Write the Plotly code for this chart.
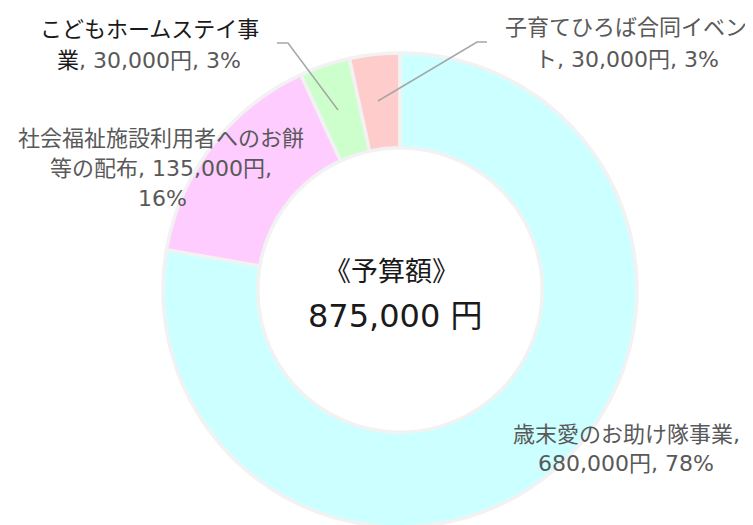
import plotly.graph_objects as go

categories = ["歳末愛のお助け隊事業", "社会福祉施設利用者へのお餅等の配布", "こどもホームステイ事業", "子育てひろば合同イベント"]
values = [680000, 135000, 30000, 30000]
percent_labels = ["78%", "16%", "3%", "3%"]
colors = ["#CCFFFF", "#FFCCFF", "#CCFFCC", "#FFCCCC"]

# data label lines (as shown on the chart)
label_lines = [
    ["歳末愛のお助け隊事業,", "680,000円, 78%"],
    ["社会福祉施設利用者へのお餅", "等の配布, 135,000円,", "16%"],
    ["こどもホームステイ事", "業, 30,000円, 3%"],
    ["子育てひろば合同イベン", "ト, 30,000円, 3%"],
]
center_title = "《予算額》"
center_total = "875,000 円"

W, H = 753, 525
OX, OY = 8, 7  # page offset of the plot div
FONT = "DejaVu Sans, Noto Sans CJK JP"

fig = go.Figure()
fig.add_trace(go.Pie(
    labels=categories,
    values=values,
    sort=False,
    direction="clockwise",
    rotation=0,
    hole=0.6,
    textinfo="none",
    hoverinfo="label+value+percent",
    marker=dict(colors=colors, line=dict(color="#F2F2F2", width=3.5)),
    domain=dict(x=[155 / W, 629 / W], y=[1 - 519 / H, 1 - 45 / H]),
    showlegend=False,
))

def px(x, y):
    return (x - OX) / W, 1 - (y - OY) / H

# label positions (center x, center y of each line) in pixels
label_pos = [
    [(626, 433), (626, 462)],
    [(161, 137), (161, 167), (162, 197)],
    [(149, 28), (149, 59)],
    [(626, 27), (627, 58)],
]
annotations = []
for i, lines in enumerate(label_lines):
    for j, t in enumerate(lines):
        x, y = px(*label_pos[i][j])
        color = "#595959"
        text = t
        if i == 2:
            if j == 0:
                text = f"<span style='color:#1A1A1A'>{t}</span>"
            else:
                text = f"<span style='color:#1A1A1A'>{t[0]}</span>{t[1:]}"
        annotations.append(dict(
            x=x, y=y, xref="paper", yref="paper", text=text, showarrow=False,
            xanchor="center", yanchor="middle",
            font=dict(family=FONT, size=22, color=color),
        ))

cx, cy = px(391, 270)
annotations.append(dict(x=cx, y=cy, xref="paper", yref="paper", text=center_title,
                        showarrow=False, xanchor="center", yanchor="middle",
                        font=dict(family=FONT, size=27, color="#1A1A1A")))
cx, cy = px(395, 315)
annotations.append(dict(x=cx, y=cy, xref="paper", yref="paper", text=center_total,
                        showarrow=False, xanchor="center", yanchor="middle",
                        font=dict(family=FONT, size=32, color="#1A1A1A")))

# leader lines
leaders = [
    [(277, 42), (288, 42), (338, 109)],
    [(487, 41), (477, 41), (378, 100)],
]
shapes = []
for pts in leaders:
    path = "M " + " L ".join(f"{px(x, y)[0]} {px(x, y)[1]}" for x, y in pts)
    shapes.append(dict(type="path", xref="paper", yref="paper", path=path,
                       line=dict(color="#A6A6A6", width=1.5)))

fig.update_layout(
    width=W, height=H,
    margin=dict(l=0, r=0, t=0, b=0),
    paper_bgcolor="white", plot_bgcolor="white",
    annotations=annotations, shapes=shapes,
)
fig.write_html("out.html")
